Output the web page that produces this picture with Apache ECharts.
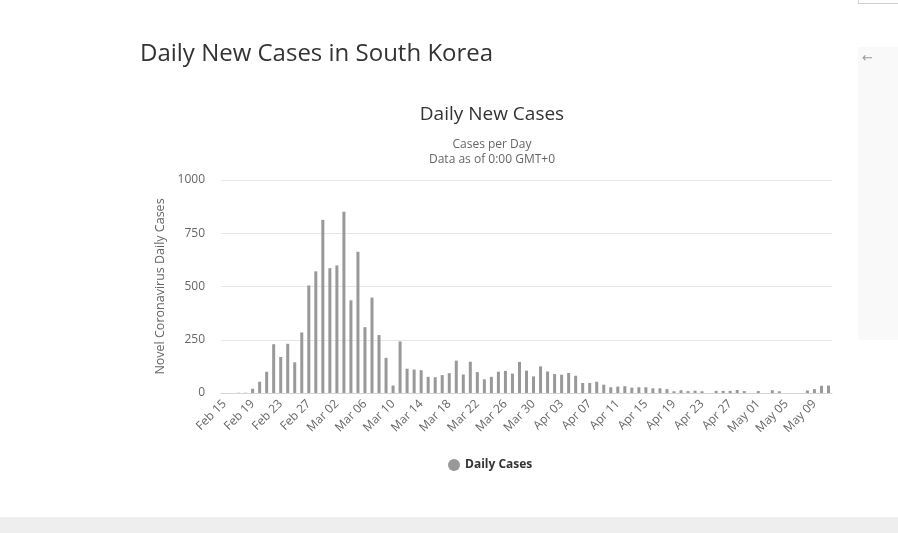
<!DOCTYPE html>
<html>
<head>
<meta charset="utf-8">
<script src="https://cdn.jsdelivr.net/npm/echarts@6/dist/echarts.min.js"></script>
<style>
    html, body { margin: 0; padding: 0; background: #fff; }
    #page { position: relative; width: 898px; height: 533px; overflow: hidden; }
    #chart { position: absolute; left: 0; top: 0; width: 898px; height: 533px; }
    #footer { position: absolute; left: 0; top: 517px; width: 898px; height: 16px; background: #eeeeee; }
    #side { position: absolute; left: 858px; top: 47px; width: 40px; height: 293px; background: #f9f9f9; }
    #side span { position: absolute; left: 4px; top: 3px; font: 13px "DejaVu Sans", sans-serif; color: #999; }
    #topbox { position: absolute; left: 858px; top: -20px; width: 40px; height: 22px; border: 1px solid #d0d0d0; }
</style>
</head>
<body>
<div id="page">
    <div id="chart"></div>
    <div id="side"><span>&#8592;</span></div>
    <div id="topbox"></div>
    <div id="footer"></div>
</div>
<script>
// 日期（Feb 15 - May 11）
var dates = [
    'Feb 15','Feb 16','Feb 17','Feb 18','Feb 19','Feb 20','Feb 21','Feb 22','Feb 23','Feb 24',
    'Feb 25','Feb 26','Feb 27','Feb 28','Feb 29',
    'Mar 01','Mar 02','Mar 03','Mar 04','Mar 05','Mar 06','Mar 07','Mar 08','Mar 09','Mar 10',
    'Mar 11','Mar 12','Mar 13','Mar 14','Mar 15','Mar 16','Mar 17','Mar 18','Mar 19','Mar 20',
    'Mar 21','Mar 22','Mar 23','Mar 24','Mar 25','Mar 26','Mar 27','Mar 28','Mar 29','Mar 30','Mar 31',
    'Apr 01','Apr 02','Apr 03','Apr 04','Apr 05','Apr 06','Apr 07','Apr 08','Apr 09','Apr 10',
    'Apr 11','Apr 12','Apr 13','Apr 14','Apr 15','Apr 16','Apr 17','Apr 18','Apr 19','Apr 20',
    'Apr 21','Apr 22','Apr 23','Apr 24','Apr 25','Apr 26','Apr 27','Apr 28','Apr 29','Apr 30',
    'May 01','May 02','May 03','May 04','May 05','May 06','May 07','May 08','May 09','May 10','May 11'
];

// 每日新增病例
var dailyCases = [
    0, 0, 1, 1, 20, 53, 100, 229, 169, 231,
    144, 284, 505, 571, 813,
    586, 599, 851, 435, 663, 309, 448, 272, 165, 35,
    242, 114, 110, 107, 76, 74, 84, 93, 152, 87,
    147, 98, 64, 76, 100, 104, 91, 146, 105, 78, 125,
    101, 89, 86, 94, 81, 47, 47, 53, 39, 27,
    30, 32, 25, 27, 27, 22, 22, 18, 8, 13,
    9, 11, 8, 0, 10, 10, 10, 14, 9, 0,
    9, 0, 13, 8, 0, 0, 0, 12, 18, 34, 35
];

var yTicks = [0, 250, 500, 750, 1000];

var myChart = echarts.init(document.getElementById('chart'));

var option = {
    animation: false,
    textStyle: { fontFamily: '"Open Sans", "Noto Sans", sans-serif' },
    title: [
        {
            text: 'Daily New Cases in South Korea',
            left: 135,
            top: 37,
            textStyle: { fontSize: 24, fontWeight: 'normal', color: '#333', fontFamily: '"Open Sans", sans-serif' }
        },
        {
            text: 'Daily New Cases',
            subtext: 'Cases per Day\nData as of 0:00 GMT+0',
            left: 487,
            textAlign: 'center',
            top: 100,
            itemGap: 13,
            textStyle: { fontSize: 19, fontWeight: 'normal', color: '#333', fontFamily: '"Open Sans", sans-serif' },
            subtextStyle: { fontSize: 12, color: '#666', lineHeight: 15, fontFamily: '"Open Sans", sans-serif' }
        }
    ],
    legend: {
        left: 443,
        top: 454,
        icon: 'circle',
        itemWidth: 12,
        itemHeight: 12,
        itemGap: 6,
        textStyle: { fontSize: 12, fontWeight: 'bold', color: '#333' },
        data: ['Daily Cases']
    },
    grid: {
        left: 221,
        right: 66,
        top: 180,
        bottom: 140,
        containLabel: false
    },
    xAxis: {
        type: 'category',
        data: dates,
        axisLine: { lineStyle: { color: '#ccd6eb' } },
        axisTick: { show: false },
        axisLabel: {
            interval: 3,
            rotate: 45,
            margin: 9,
            fontSize: 12,
            color: '#666'
        }
    },
    yAxis: {
        type: 'value',
        min: yTicks[0],
        max: yTicks[yTicks.length - 1],
        interval: 250,
        name: 'Novel Coronavirus Daily Cases',
        nameLocation: 'middle',
        nameGap: 52,
        nameTextStyle: { fontSize: 12.5, color: '#666' },
        axisLine: { show: false },
        axisTick: { show: false },
        axisLabel: {
            fontSize: 12,
            color: '#666',
            margin: 16,
            formatter: function (v) { return String(v); }
        },
        splitLine: { lineStyle: { color: '#e6e6e6' } }
    },
    series: [
        {
            name: 'Daily Cases',
            type: 'bar',
            data: dailyCases,
            barWidth: 3,
            itemStyle: { color: '#999999' }
        }
    ]
};

myChart.setOption(option);
</script>
</body>
</html>
